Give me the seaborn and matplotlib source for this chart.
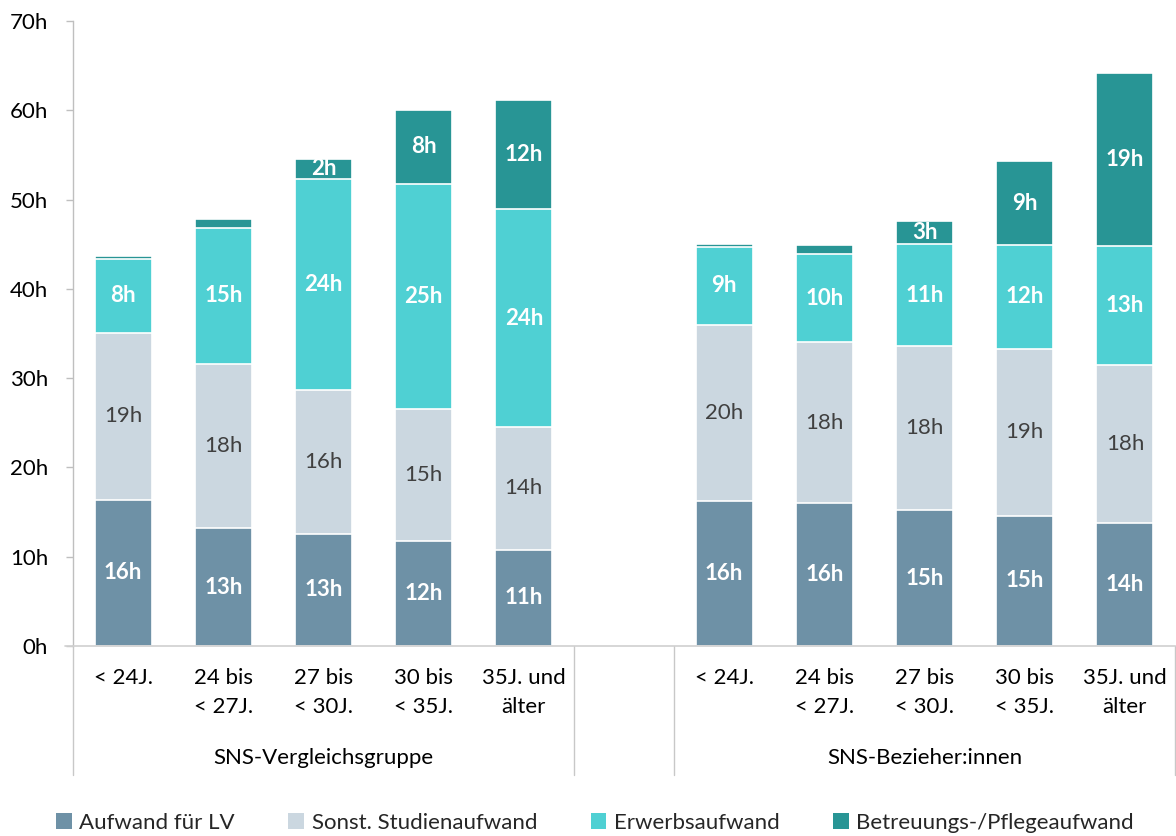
import numpy as np
import pandas as pd
import matplotlib
matplotlib.use("Agg")
import matplotlib.pyplot as plt
from matplotlib.patches import Patch
from matplotlib.transforms import blended_transform_factory
import seaborn as sns

# Age bands (two-line tick labels) and the two comparison groups
age_bands = ["< 24J.", "24 bis\n< 27J.", "27 bis\n< 30J.", "30 bis\n< 35J.", "35J. und\nälter"]
groups = ["SNS-Vergleichsgruppe", "SNS-Bezieher:innen"]

# Weekly hours per component (one value per age band)
lv_vergleich = [16.4, 13.2, 12.6, 11.8, 10.8]
studium_vergleich = [18.7, 18.4, 16.1, 14.7, 13.7]
erwerb_vergleich = [8.3, 15.2, 23.6, 25.3, 24.4]
betreuung_vergleich = [0.3, 1.0, 2.3, 8.2, 12.2]

lv_bezieher = [16.2, 16.0, 15.2, 14.6, 13.8]
studium_bezieher = [19.8, 18.0, 18.4, 18.7, 17.7]
erwerb_bezieher = [8.7, 9.9, 11.4, 11.6, 13.3]
betreuung_bezieher = [0.3, 1.0, 2.6, 9.4, 19.4]

components = ["Aufwand für LV", "Sonst. Studienaufwand", "Erwerbsaufwand", "Betreuungs-/Pflegeaufwand"]
colors = ["#6E91A6", "#CBD7E0", "#4FD0D3", "#289595"]
label_colors = ["white", "#404040", "white", "white"]
label_weights = ["bold", "normal", "bold", "bold"]

sns.set_theme(style="white")
plt.rcParams["font.family"] = ["Lato", "DejaVu Sans"]

# Slot keys: five bands per group with an empty slot between the groups
keys_v = [f"v{i}" for i in range(5)]
keys_b = [f"b{i}" for i in range(5)]
order = keys_v + ["gap"] + keys_b

values = {
    comp: list(v) + list(b)
    for comp, v, b in zip(
        components,
        [lv_vergleich, studium_vergleich, erwerb_vergleich, betreuung_vergleich],
        [lv_bezieher, studium_bezieher, erwerb_bezieher, betreuung_bezieher],
    )
}
df = pd.DataFrame(values)
df["slot"] = keys_v + keys_b
cum = df[components].cumsum(axis=1)
for i, comp in enumerate(components):
    df[f"cum{i}"] = cum[comp]

fig, ax = plt.subplots(figsize=(11.76, 8.36), dpi=100)
fig.subplots_adjust(left=73 / 1176, right=1175 / 1176, bottom=1 - 646 / 836, top=1 - 21 / 836)

bar_width = 0.57
# Stack by drawing cumulative totals from the top layer down
for i in reversed(range(len(components))):
    sns.barplot(data=df, x="slot", y=f"cum{i}", order=order, color=colors[i],
                saturation=1, width=bar_width, errorbar=None,
                edgecolor="white", linewidth=1.2, ax=ax)

# Value labels centred in each segment
pos = {k: order.index(k) for k in order}
for _, row in df.iterrows():
    x = pos[row["slot"]]
    base = 0.0
    for i, comp in enumerate(components):
        v = row[comp]
        if v >= 1.5:
            ax.text(x, base + v / 2, f"{v:.0f}h", ha="center", va="center",
                    color=label_colors[i], fontweight=label_weights[i], fontsize=16)
        base += v

ax.set_xlim(-0.5, len(order) - 0.5)
ax.set_ylim(0, 70)
ax.set_yticks(np.arange(0, 71, 10))
ax.set_yticklabels([f"{t}h" for t in range(0, 71, 10)], fontsize=16, color="black")
ax.tick_params(axis="y", length=5, width=1, color="#BFBFBF", pad=13, left=True)
ax.set_xticks([])
ax.set_xlabel("")
ax.set_ylabel("")

for side in ["top", "right"]:
    ax.spines[side].set_visible(False)
ax.spines["left"].set_color("#BFBFBF")
ax.spines["bottom"].set_color("#D0D0D0")
ax.spines["left"].set_linewidth(1)
ax.spines["bottom"].set_linewidth(1.2)

# Two-level category axis below the plot
trans = blended_transform_factory(ax.transData, ax.transAxes)
sep_bottom = -(775 - 646) / 625
for xs in [-0.5, 4.5, 5.5, len(order) - 0.5]:
    ax.plot([xs, xs], [0, sep_bottom], transform=trans, color="#C8C8C8",
            lw=1, clip_on=False)
# baseline stub left of the y axis
ax.plot([-0.5 - 8 / 100.2, -0.5], [0, 0], transform=trans, color="#D0D0D0", lw=1.2, clip_on=False)

for g, keys in enumerate([keys_v, keys_b]):
    for k, lab in zip(keys, age_bands):
        ax.text(pos[k], -(668 - 646) / 625, lab, transform=trans, ha="center", va="top",
                fontsize=16, color="black", linespacing=1.55)
    ax.text(pos[keys[2]], -(758 - 646) / 625, groups[g], transform=trans,
            ha="center", va="center", fontsize=16, color="black")

handles = [Patch(facecolor=c, edgecolor="none") for c in colors]
fig.legend(handles, components, loc="center", bbox_to_anchor=(0.506, 1 - 823 / 836),
           ncol=4, frameon=False, fontsize=16, handlelength=0.7, handleheight=0.7,
           handletextpad=0.35, columnspacing=2.4)

fig.savefig("out.png", dpi=100)
